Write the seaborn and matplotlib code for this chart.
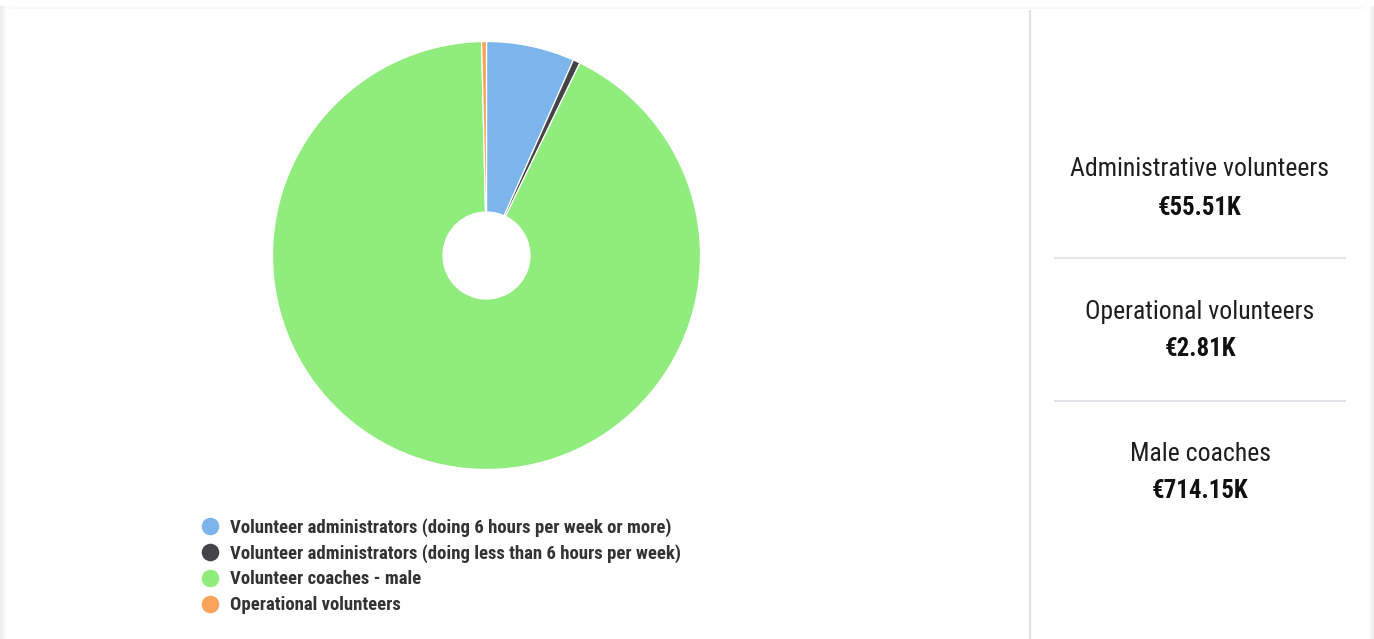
import matplotlib
matplotlib.use("Agg")
import matplotlib.pyplot as plt
from matplotlib import font_manager
from matplotlib.patches import Rectangle
import seaborn as sns

# --- data -------------------------------------------------------------
categories = [
    "Volunteer administrators (doing 6 hours per week or more)",
    "Volunteer administrators (doing less than 6 hours per week)",
    "Volunteer coaches - male",
    "Operational volunteers",
]
values_k = [51.40, 4.11, 714.15, 2.81]
slice_colors = ["#7cb5ec", "#434348", "#90ed7d", "#f7a35c"]

summary_labels = ["Administrative volunteers", "Operational volunteers", "Male coaches"]
summary_values = ["€55.51K", "€2.81K", "€714.15K"]

# --- fonts ------------------------------------------------------------
sns.set_theme(style="white")


def font_file(fname, family, weight):
    for f in font_manager.fontManager.ttflist:
        if f.fname.endswith(fname):
            return font_manager.FontProperties(fname=f.fname)
    return font_manager.FontProperties(family=family, weight=weight)


cond_bold = font_file("RobotoCondensed-Bold.ttf", "Roboto Condensed", "bold")
cond_reg = font_file("RobotoCondensed-Regular.ttf", "Roboto Condensed", "normal")

W, H = 1374, 639
fig = plt.figure(figsize=(W / 100, H / 100), dpi=100)
fig.patch.set_facecolor("white")

# pixel-space canvas for the card, dividers and legend
canvas = fig.add_axes([0, 0, 1, 1], zorder=0)
canvas.set_xlim(0, W)
canvas.set_ylim(H, 0)
canvas.axis("off")

# faint card shadow along the edges
left_shades = ["#ececec", "#efefef", "#f2f2f2", "#f5f5f5", "#f8f8f8", "#fafafa", "#fcfcfc"]
for i, c in enumerate(left_shades):
    canvas.add_patch(Rectangle((i, 6), 1, H, facecolor=c, linewidth=0))
for i, c in enumerate(["#fbfbfb", "#f7f7f7", "#f3f3f3", "#f0f0f0", "#eeeeee"]):
    canvas.add_patch(Rectangle((1369 + i, 6), 1, H, facecolor=c, linewidth=0))
for i, c in enumerate(["#fcfcfc", "#fafafa", "#f8f8f8"]):
    canvas.add_patch(Rectangle((10, 6 + i), W - 20, 1, facecolor=c, linewidth=0))
canvas.add_patch(Rectangle((7, 9), 1362, H, facecolor="white", linewidth=0))

# vertical divider and summary separators
canvas.plot([1030, 1030], [10, H], color="#dde1e6", linewidth=1.5, solid_capstyle="butt")
for y in (258, 401):
    canvas.plot([1054, 1346], [y, y], color="#e1e4e8", linewidth=1.5, solid_capstyle="butt")

# --- donut ------------------------------------------------------------
cx, cy, r = 486.5, 255.5, 214.0
pie_ax = fig.add_axes([(cx - r) / W, 1 - (cy + r) / H, 2 * r / W, 2 * r / H], zorder=2)
pie_ax.pie(
    values_k,
    colors=slice_colors,
    startangle=90,
    counterclock=False,
    radius=1.0,
    wedgeprops=dict(width=1 - 43.5 / r, edgecolor="white", linewidth=0.9),
)
pie_ax.set_xlim(-1.0, 1.0)
pie_ax.set_ylim(-1.0, 1.0)
pie_ax.set_aspect("equal")
pie_ax.axis("off")

# --- legend -----------------------------------------------------------
legend_y = [526, 552, 578, 604]
for label, color, y in zip(categories, slice_colors, legend_y):
    canvas.scatter([210], [y], s=160, color=color, linewidth=0, zorder=3)
    canvas.text(230, y + 1.5, label, fontproperties=cond_bold, fontsize=13.5,
                color="#333333", va="center", ha="left")

# --- summary panel ----------------------------------------------------
label_y = [169, 312, 454]
value_y = [208, 349, 491]
for lab, val, ly, vy in zip(summary_labels, summary_values, label_y, value_y):
    canvas.text(1200, ly, lab, fontproperties=cond_reg, fontsize=18.5,
                color="#1e1e1e", ha="center", va="center")
    canvas.text(1200, vy, val, fontproperties=cond_bold, fontsize=17.9,
                color="#111111", ha="center", va="center")

fig.savefig("out.png", dpi=100, facecolor=fig.get_facecolor())
